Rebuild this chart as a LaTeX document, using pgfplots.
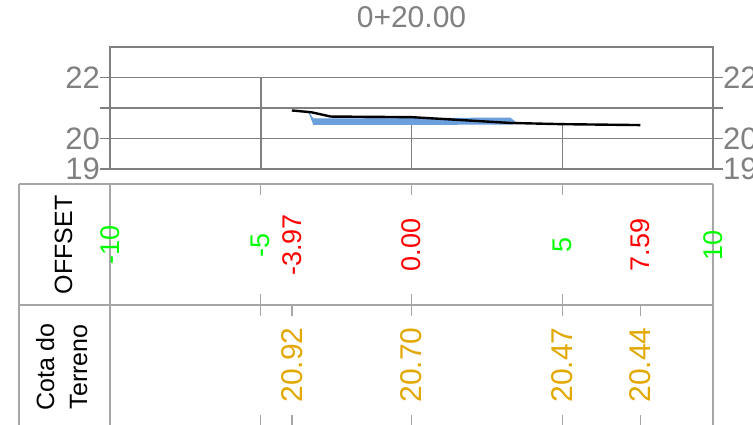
\documentclass[border=0pt]{standalone}
\usepackage{pgfplots}
\pgfplotsset{compat=1.18}
\usepackage{fontspec}
\setmainfont{Liberation Sans}

\definecolor{axgray}{RGB}{128,128,128}
\definecolor{tabgray}{RGB}{166,166,166}
\definecolor{pave}{RGB}{108,160,220}
\definecolor{offgreen}{RGB}{0,255,0}
\definecolor{offred}{RGB}{255,0,0}
\definecolor{cotagold}{RGB}{226,168,0}

\pgfplotsset{
  secbox/.style={
    at={(110pt,-169pt)}, anchor=south west,
    scale only axis, width=603pt, height=122pt,
    xmin=-10, xmax=10, ymin=19, ymax=23,
    xtick=\empty,
    ytick={19,20,21,22}, yticklabels={19,20,,22},
    tick align=outside, major tick length=10pt,
    tick style={axgray, line width=1.5pt},
    axis line style={axgray, line width=1.5pt},
    yticklabel style={font=\fontsize{31}{31}\selectfont, text=axgray, inner sep=0pt},
  },
  lbl/.style={draw=none, mark=none, nodes near coords, point meta=explicit symbolic,
    nodes near coords align=center,
    every node near coord/.append style={rotate=90, anchor=center, text=#1}},
}

\begin{document}
\begin{tikzpicture}
\useasboundingbox (0,0) rectangle (753pt,-425pt);
\clip (0,0) rectangle (753pt,-425pt);

% cross section
\begin{axis}[secbox,
  ytick pos=left,
  ymajorgrids, major grid style={axgray, line width=1.5pt},
  title={0+20.00},
  title style={font=\fontsize{30}{30}\selectfont, text=axgray, at={(0.5,1)}, anchor=base, yshift=13.7pt},
]
\addplot[axgray, line width=1.5pt, unbounded coords=jump] coordinates {
  (-5,22) (-5,19) (0,nan) (0,20.70) (0,19) (5,nan) (5,20.47) (5,19)
};
\addplot[draw=pave, fill=pave, line width=1pt] coordinates {
  (-3.42,20.86) (-3.26,20.64) (3.27,20.67) (3.43,20.55) (3.37,20.47) (-3.26,20.46)
};
\addplot[black, line width=2.4pt] coordinates {
  (-3.97,20.92) (-3.32,20.86) (-2.68,20.72) (0,20.70) (3.28,20.51) (5,20.47) (7.59,20.44)
};
\end{axis}

% right hand labels
\begin{axis}[secbox, axis x line=none, axis y line*=right, tick align=outside,
  ytick pos=right, yticklabel pos=right]
\addplot[draw=none] coordinates {(0,20)};
\end{axis}

% table below
\begin{axis}[at={(19pt,-425pt)}, anchor=south west,
  scale only axis, width=694pt, height=241pt,
  xmin=-13.018, xmax=10, ymin=-425, ymax=-184,
  hide axis, clip=false]
\addplot[tabgray, line width=1.5pt, unbounded coords=jump] coordinates {
  (-13.018,-184) (10,-184) (10,nan)
  (-13.018,-305) (10,-305) (10,nan)
  (-13.018,-184) (-13.018,-440) (0,nan)
  (-10,-184) (-10,-440) (0,nan)
  (10,-184) (10,-440) (0,nan)
  (-5,-184) (-5,-195) (0,nan)
  (0,-184) (0,-195) (0,nan)
  (5,-184) (5,-195) (0,nan)
  (-5,-294) (-5,-316) (0,nan)
  (0,-294) (0,-316) (0,nan)
  (5,-294) (5,-316) (0,nan)
  (-3.97,-305) (-3.97,-316) (0,nan)
  (7.59,-305) (7.59,-316) (0,nan)
  (-5,-415) (-5,-440) (0,nan)
  (-3.97,-415) (-3.97,-440) (0,nan)
  (0,-415) (0,-440) (0,nan)
  (5,-415) (5,-440) (0,nan)
  (7.59,-415) (7.59,-440)
};
\addplot[lbl=offgreen, every node near coord/.append style={font=\fontsize{27}{27}\selectfont}]
  coordinates {(-10,-245) [-10] (-5,-245) [-5] (5,-245) [5] (10,-245) [10]};
\addplot[lbl=offred, every node near coord/.append style={font=\fontsize{27}{27}\selectfont}]
  coordinates {(-3.97,-245) [-3.97] (0,-245) [0.00] (7.59,-245) [7.59]};
\addplot[lbl=cotagold, every node near coord/.append style={font=\fontsize{30}{30}\selectfont}]
  coordinates {(-3.97,-365) [20.92] (0,-365) [20.70] (5,-365) [20.47] (7.59,-365) [20.44]};
\node[rotate=90, font=\fontsize{25}{25}\selectfont] at (axis cs:-11.54,-245) {OFFSET};
\node[rotate=90, align=center, font=\fontsize{25}{33}\selectfont] at (axis cs:-11.6,-367) {Cota do\\Terreno};
\end{axis}
\end{tikzpicture}
\end{document}
